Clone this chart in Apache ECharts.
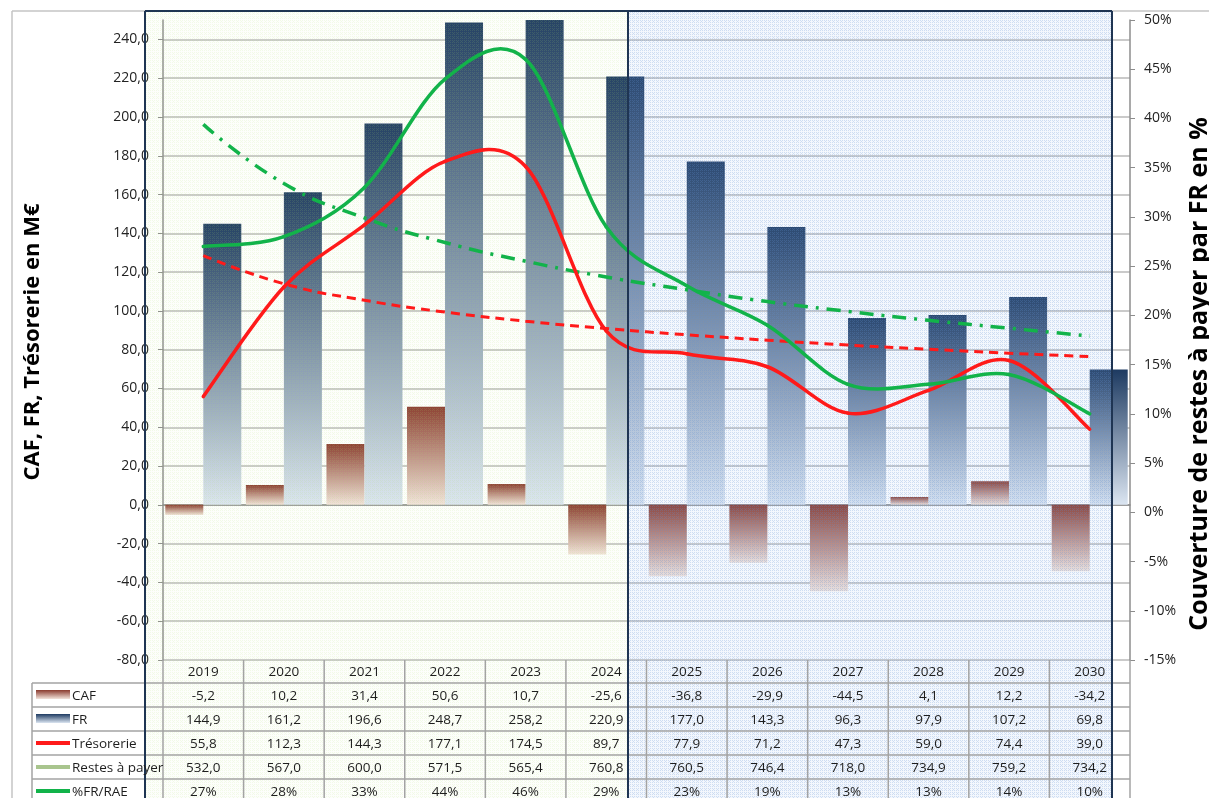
<!DOCTYPE html>
<html><head><meta charset="utf-8">
<script src="https://cdn.jsdelivr.net/npm/echarts@6/dist/echarts.min.js"></script>
<style>html,body{margin:0;padding:0;background:#fff}#c{width:1209px;height:798px}</style>
</head><body><div id="c"></div>
<script>
// ---- data ----
const years = ['2019','2020','2021','2022','2023','2024','2025','2026','2027','2028','2029','2030'];
const caf = [-5.2,10.2,31.4,50.6,10.7,-25.6,-36.8,-29.9,-44.5,4.1,12.2,-34.2];
const fr = [144.9,161.2,196.6,248.7,258.2,220.9,177.0,143.3,96.3,97.9,107.2,69.8];
const tresorerie = [55.8,112.3,144.3,177.1,174.5,89.7,77.9,71.2,47.3,59.0,74.4,39.0];
const restesAPayer = [532.0,567.0,600.0,571.5,565.4,760.8,760.5,746.4,718.0,734.9,759.2,734.2];
const pctFrRae = [0.27,0.28,0.33,0.44,0.46,0.29,0.23,0.19,0.13,0.13,0.14,0.10];
// trend lines
const tresoTrend = [128.5,114.0,105.5,99.4,94.7,90.9,87.7,84.9,82.4,80.2,78.2,76.4];
const pctTrend = [0.394,0.334,0.299,0.274,0.255,0.239,0.226,0.214,0.204,0.195,0.187,0.179];
const leftAxisRange = [-80, 250, 20];
const rightAxisRange = [-0.15, 0.5, 0.05];
const rowLabels = ['CAF','FR','Trésorerie','Restes à payer','%FR/RAE'];

const fmt1 = v => v.toFixed(1).replace('.', ',');
const fmtPct = v => Math.round(v * 100) + '%';
const FONT = '"Open Sans", "Noto Sans", sans-serif';

const G = echarts.graphic;
const cafGrad = () => new G.LinearGradient(0,0,0,1,[{offset:0,color:'#8a3a2e'},{offset:1,color:'#f2e3db'}]);
const frGrad = () => new G.LinearGradient(0,0,0,1,[{offset:0,color:'#1d3a61'},{offset:1,color:'#dbe5f1'}]);

function makePattern(base, dot) {
  const c = document.createElement('canvas'); c.width = 4; c.height = 4;
  const g = c.getContext('2d');
  g.fillStyle = base; g.fillRect(0,0,4,4);
  g.fillStyle = dot;
  g.fillRect(0,0,1,1); g.fillRect(2,0,1,1); g.fillRect(0,2,1,1); g.fillRect(2,2,1,1); g.fillRect(1,1,1,1);
  return c;
}
const greenPat = makePattern('rgba(215,245,175,0.05)', 'rgba(175,228,120,0.14)');
const bluePat = makePattern('rgba(160,190,235,0.12)', 'rgba(100,145,212,0.26)');

// Smoothed line drawn per segment (Excel-like bezier smoothing) through the axis scales
function smoothLine(values, color, yAxisIndex) {
  return {
    type: 'custom', yAxisIndex, data: values.map((v, i) => [i, v]), z: 5, clip: true,
    renderItem: function (params, api) {
      const i = params.dataIndex;
      if (i >= values.length - 1) return null;
      const P = k => api.coord([Math.max(0, Math.min(values.length - 1, k)), values[Math.max(0, Math.min(values.length - 1, k))]]);
      const p0 = P(i - 1), p1 = P(i), p2 = P(i + 1), p3 = P(i + 2);
      return {
        type: 'bezierCurve',
        shape: {
          x1: p1[0], y1: p1[1], x2: p2[0], y2: p2[1],
          cpx1: p1[0] + (p2[0] - p0[0]) / 6, cpy1: p1[1] + (p2[1] - p0[1]) / 6,
          cpx2: p2[0] - (p3[0] - p1[0]) / 6, cpy2: p2[1] - (p3[1] - p1[1]) / 6
        },
        style: { stroke: color, lineWidth: 3.5, fill: null, lineCap: 'round' }
      };
    }
  };
}

const chart = echarts.init(document.getElementById('c'));
const option = {
  animation: false,
  backgroundColor: '#ffffff',
  grid: { left: 163, right: 79, top: 20, bottom: 138, containLabel: false, outerBoundsMode: 'none' },
  xAxis: {
    type: 'category', data: years, boundaryGap: true,
    axisLine: { onZero: true, lineStyle: { color: '#8c8c8c', width: 1.5 } },
    axisTick: { show: false }, axisLabel: { show: false }, splitLine: { show: false }
  },
  yAxis: [
    {
      type: 'value', min: leftAxisRange[0], max: leftAxisRange[1], interval: leftAxisRange[2],
      axisLine: { show: true, lineStyle: { color: '#8c8c8c', width: 1.5 } },
      axisTick: { show: true, inside: false, length: 5, lineStyle: { color: '#8c8c8c' } },
      axisLabel: { formatter: v => fmt1(v), color: '#222', fontFamily: FONT, fontSize: 14, margin: 14, showMaxLabel: false },
      splitLine: { show: true, showMaxLine: false, lineStyle: { color: '#b9b9b9', width: 1.5 } }
    },
    {
      type: 'value', min: rightAxisRange[0], max: rightAxisRange[1], interval: rightAxisRange[2],
      axisLine: { show: true, lineStyle: { color: '#8c8c8c', width: 1.5 } },
      axisTick: { show: true, inside: false, length: 5, lineStyle: { color: '#8c8c8c' } },
      axisLabel: { formatter: v => fmtPct(v), color: '#222', fontFamily: FONT, fontSize: 14, margin: 14 },
      splitLine: { show: false }
    }
  ],
  series: [
    { name: 'CAF', type: 'bar', data: caf, barWidth: 38, barGap: '0%', itemStyle: { color: cafGrad() }, z: 2 },
    { name: 'FR', type: 'bar', data: fr, barWidth: 38, barGap: '0%', itemStyle: { color: frGrad() }, z: 2 },
    Object.assign(smoothLine(tresorerie, '#ff1a1a', 0), { name: 'Trésorerie' }),
    Object.assign(smoothLine(pctFrRae, '#12b34a', 1), { name: '%FR/RAE' }),
    { name: 'Tendance Trésorerie', type: 'line', data: tresoTrend, smooth: true, showSymbol: false,
      lineStyle: { color: '#ff1a1a', width: 3, type: [9, 6] }, z: 4 },
    { name: 'Tendance %FR/RAE', type: 'line', yAxisIndex: 1, data: pctTrend, smooth: true, showSymbol: false,
      lineStyle: { color: '#12b34a', width: 3.5, type: [14, 8, 3, 8] }, z: 4 }
  ]
};
chart.setOption(option);

// ---- data table and decorations ----
const xs = years.map((y, i) => chart.convertToPixel({ xAxisIndex: 0 }, i));
const colW = xs[1] - xs[0];
const bounds = xs.map(x => x - colW / 2).concat([xs[xs.length - 1] + colW / 2]);
const tableTop = chart.convertToPixel({ yAxisIndex: 0 }, leftAxisRange[0]);
const headerH = 23, rowH = 24;
const rowTop = i => tableTop + headerH + i * rowH;
const legendLeft = 32, tableRight = bounds[bounds.length - 1];
const gridStroke = { stroke: '#a3a3a3', lineWidth: 1.5 };
const els = [];

// outer chart border
els.push({ type: 'line', shape: { x1: 12, y1: 11, x2: 12, y2: 798 }, style: { stroke: '#c4c4c4', lineWidth: 1.5 }, z: 1 });
els.push({ type: 'line', shape: { x1: 12, y1: 11, x2: 1209, y2: 11 }, style: { stroke: '#c4c4c4', lineWidth: 1.5 }, z: 1 });

// table horizontal lines
for (let r = 0; r <= 4; r++) {
  els.push({ type: 'line', shape: { x1: legendLeft, y1: rowTop(r), x2: tableRight, y2: rowTop(r) }, style: gridStroke, z: 10 });
}
// vertical lines
bounds.forEach(b => {
  els.push({ type: 'line', shape: { x1: b, y1: tableTop, x2: b, y2: 800 }, style: gridStroke, z: 10 });
});
els.push({ type: 'line', shape: { x1: legendLeft, y1: rowTop(0), x2: legendLeft, y2: 800 }, style: gridStroke, z: 10 });

const txt = (x, y, text, extra) => ({
  type: 'text', x, y, z: 60,
  style: Object.assign({ text, fill: '#1e1e1e', font: '13.5px ' + FONT, textAlign: 'center', textVerticalAlign: 'middle', align: 'center', verticalAlign: 'middle' }, extra || {})
});
// header years
years.forEach((y, i) => els.push(txt(xs[i], tableTop + headerH / 2 + 1, y)));
// rows
const rows = [caf.map(fmt1), fr.map(fmt1), tresorerie.map(fmt1), restesAPayer.map(fmt1), pctFrRae.map(fmtPct)];
rows.forEach((vals, r) => {
  const cy = rowTop(r) + rowH / 2 + 1;
  vals.forEach((v, i) => els.push(txt(xs[i], cy, v)));
  els.push(txt(72, cy, rowLabels[r], { textAlign: 'left', align: 'left', font: '13.5px ' + FONT }));
});
// legend keys
const keyX = 36, keyW = 34;
els.push({ type: 'rect', shape: { x: keyX, y: rowTop(0) + 7, width: keyW, height: 9 }, style: { fill: cafGrad() }, z: 60 });
els.push({ type: 'rect', shape: { x: keyX, y: rowTop(1) + 7, width: keyW, height: 9 }, style: { fill: frGrad() }, z: 60 });
const keyLine = (r, color) => ({ type: 'line', shape: { x1: keyX, y1: rowTop(r) + rowH / 2, x2: keyX + keyW, y2: rowTop(r) + rowH / 2 }, style: { stroke: color, lineWidth: 4 }, z: 60 });
els.push(keyLine(2, '#ff1a1a'));
els.push(keyLine(3, '#a9c58e'));
els.push(keyLine(4, '#12b34a'));

// shaded period panels (overlay between bars and lines)
const panelTop = 11, splitX = 628, greenLeft = 145, blueRight = 1112;
els.push({ type: 'rect', shape: { x: greenLeft, y: panelTop, width: splitX - greenLeft, height: 800 - panelTop }, style: { fill: { image: greenPat, repeat: 'repeat' } }, z: 3, silent: true });
els.push({ type: 'rect', shape: { x: splitX, y: panelTop, width: blueRight - splitX, height: 800 - panelTop }, style: { fill: { image: bluePat, repeat: 'repeat' } }, z: 3, silent: true });
const navy = { stroke: '#1f3553', lineWidth: 2 };
els.push({ type: 'line', shape: { x1: greenLeft, y1: panelTop, x2: blueRight, y2: panelTop }, style: navy, z: 45 });
els.push({ type: 'line', shape: { x1: greenLeft, y1: panelTop, x2: greenLeft, y2: 800 }, style: navy, z: 45 });
els.push({ type: 'line', shape: { x1: splitX, y1: panelTop, x2: splitX, y2: 800 }, style: navy, z: 45 });
els.push({ type: 'line', shape: { x1: blueRight, y1: panelTop, x2: blueRight, y2: 800 }, style: navy, z: 45 });

// axis titles
els.push({ type: 'text', x: 33, y: 342, rotation: Math.PI / 2, z: 60,
  style: { text: 'CAF, FR, Trésorerie en M€', font: 'bold 22px ' + FONT, fill: '#000', textAlign: 'center', textVerticalAlign: 'middle', align: 'center', verticalAlign: 'middle' } });
els.push({ type: 'text', x: 1200, y: 374, rotation: Math.PI / 2, z: 60,
  style: { text: 'Couverture de restes à payer par FR en %', font: 'bold 25px ' + FONT, fill: '#000', textAlign: 'center', textVerticalAlign: 'middle', align: 'center', verticalAlign: 'middle' } });

chart.setOption({ graphic: { elements: els } });
</script>
</body></html>
